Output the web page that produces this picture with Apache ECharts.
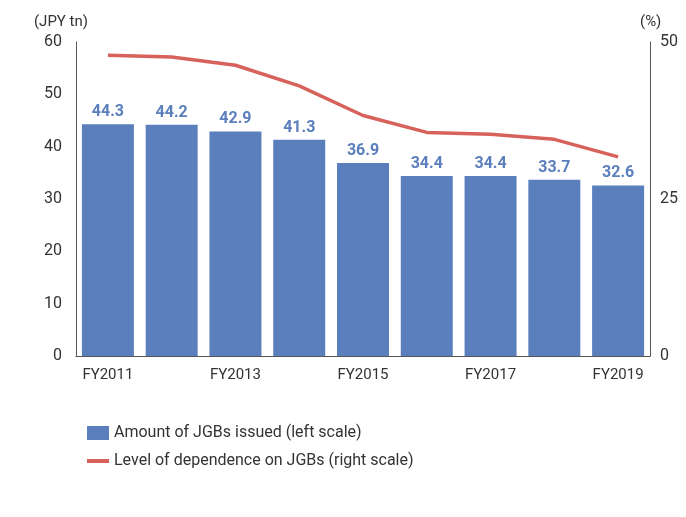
<!DOCTYPE html>
<html><head><meta charset="utf-8">
<script src="https://cdn.jsdelivr.net/npm/echarts@6/dist/echarts.min.js"></script>
<style>body{margin:0;background:#fff}#c{width:686px;height:517px}</style>
</head><body><div id="c"></div>
<script>
const categories=['FY2011','FY2012','FY2013','FY2014','FY2015','FY2016','FY2017','FY2018','FY2019'];
const amount=[44.3,44.2,42.9,41.3,36.9,34.4,34.4,33.7,32.6];
const dependence=[47.9,47.6,46.3,43.0,38.3,35.6,35.3,34.5,31.7];
const blue='#5b7fbd', red='#d6625b', txt='#333';
const ch=echarts.init(document.getElementById('c'));
ch.setOption({
 textStyle:{fontFamily:'Roboto'},
 grid:{left:76,right:36,top:42,bottom:161},
 legend:{orient:'vertical',left:82,top:420,itemGap:12,itemWidth:22,itemHeight:14,
  textStyle:{fontSize:16,color:txt},
  data:[{name:'Amount of JGBs issued (left scale)',icon:'rect'},
        {name:'Level of dependence on JGBs (right scale)',icon:'path://M0,0H22V4H0Z',itemStyle:{color:red}}]},
 xAxis:{type:'category',data:categories,axisTick:{show:false},
  axisLine:{lineStyle:{color:'#555'}},axisLabel:{fontSize:15,color:txt,margin:12}},
 yAxis:[
  {type:'value',min:0,max:60,interval:10,name:'(JPY tn)',nameGap:12,nameTextStyle:{fontSize:15,color:txt,align:'right',padding:[0,-12,0,0]},
   axisLine:{show:true,lineStyle:{color:'#555'}},axisTick:{show:false},splitLine:{show:false},axisLabel:{fontSize:16,color:txt,margin:14}},
  {type:'value',min:0,max:50,interval:25,name:'(%)',nameGap:12,nameTextStyle:{fontSize:15,color:txt,align:'left',padding:[0,0,0,-10]},
   axisLine:{show:true,lineStyle:{color:'#555'}},axisTick:{show:false},splitLine:{show:false},axisLabel:{fontSize:16,color:txt,margin:10}}
 ],
 series:[
  {name:'Amount of JGBs issued (left scale)',type:'bar',data:amount,barWidth:52,itemStyle:{color:blue},
   labelLayout:{hideOverlap:false},
   label:{show:true,position:'top',fontSize:16,fontWeight:'bold',color:blue,distance:4,formatter:p=>p.value.toFixed(1)}},
  {name:'Level of dependence on JGBs (right scale)',type:'line',yAxisIndex:1,data:dependence,symbol:'none',
   lineStyle:{color:red,width:3.5},itemStyle:{color:red},
   labelLayout:{hideOverlap:false},
   label:{show:true,position:'bottom',fontSize:16,fontWeight:'bold',color:red,distance:8,formatter:p=>p.value.toFixed(1)}}
 ]
});
</script></body></html>
